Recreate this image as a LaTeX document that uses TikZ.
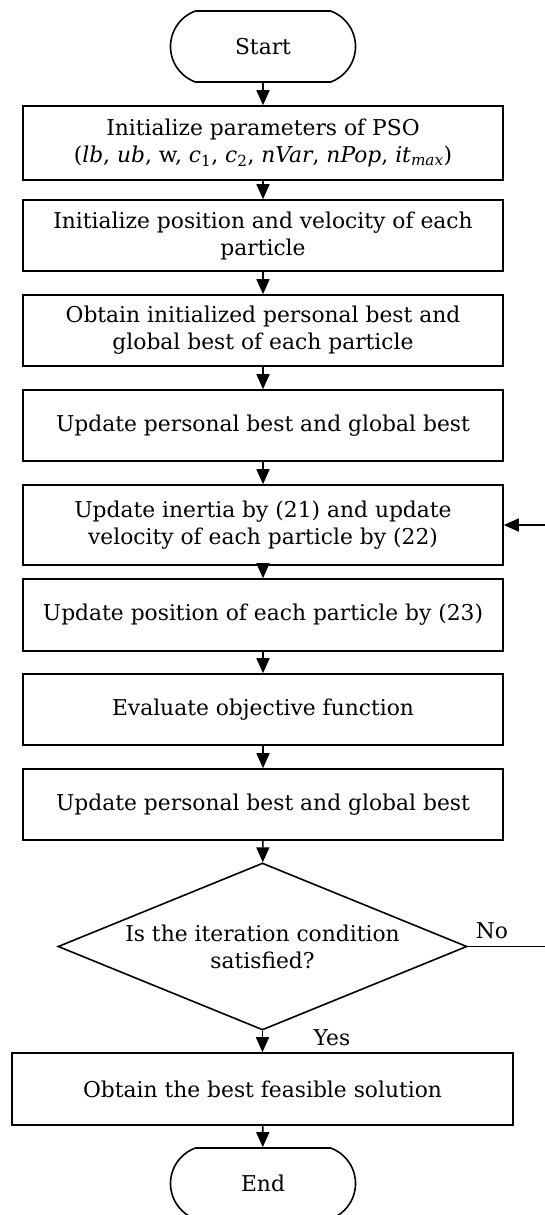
\documentclass[tikz,border=0pt]{standalone}
\usepackage{fontspec}
\setmainfont{DejaVu Serif}
\usepackage{tikz}
\usetikzlibrary{shapes,arrows.meta,positioning}

\begin{document}
\begin{tikzpicture}[x=1pt,y=-1pt,line width=1.6pt,
	font=\fontsize{21.8}{27}\selectfont,
	box/.style={draw,rectangle,align=center,minimum width=480pt,minimum height=71pt,inner sep=0pt},
	term/.style={draw,rounded rectangle,rounded rectangle arc length=140,minimum width=185pt,minimum height=71pt,inner sep=0pt},
	decide/.style={draw,diamond,aspect=2.45,align=center,minimum width=409pt,minimum height=167pt,inner sep=-5pt},
	flow/.style={-{Triangle[length=15pt,width=13pt]}}]

\useasboundingbox (0,0) rectangle (544,1215);

\node (start) at (263,46.5) [term] {Start};
\node (init) at (263,143) [box,minimum height=74pt]
	{Initialize parameters of PSO\\(\textit{lb}, \textit{ub}, w, \textit{c}\textsubscript{1}, \textit{c}\textsubscript{2}, \textit{nVar}, \textit{nPop}, \textit{it}\textsubscript{\textit{max}})};
\node (pos) at (263,235.5) [box] {Initialize position and velocity of each\\particle};
\node (obt) at (263,330.5) [box] {Obtain initialized personal best and\\global best of each particle};
\node (best1) at (263,425.5) [box] {Update personal best and global best};
\node (vel) at (263,525) [box,minimum height=80pt]
	{Update inertia by (21) and update\\velocity of each particle by (22)};
\node (upd) at (263,615) [box,minimum height=72pt] {Update position of each particle by (23)};
\node (eval) at (263,709.5) [box] {Evaluate objective function};
\node (best2) at (263,804.5) [box] {Update personal best and global best};
\node (cond) at (262.5,946.5) [decide] {Is the iteration condition\\satisfied?};
\node (sol) at (262.5,1089) [box,minimum width=501pt,minimum height=72pt] {Obtain the best feasible solution};
\node (end) at (263,1183.5) [term] {End};

\coordinate (c1) at (550,946.5);
\coordinate (c2) at (550,525);

\draw [flow] (start) -- (init);
\draw [flow] (init) -- (pos);
\draw [flow] (pos) -- (obt);
\draw [flow] (obt) -- (best1);
\draw [flow] (best1) -- (vel);
\draw [flow] (vel) -- (upd);
\draw [flow] (upd) -- (eval);
\draw [flow] (eval) -- (best2);
\draw [flow] (best2) -- (cond);
\draw [flow] (cond) -- (sol);
\draw [flow] (sol) -- (end);
\draw [flow] (cond.east) -- (c1) -- (c2) -- (vel.east);

\node (no) at (492,931) {No};
\node (yes) at (332,1038) {Yes};

\end{tikzpicture}
\end{document}
